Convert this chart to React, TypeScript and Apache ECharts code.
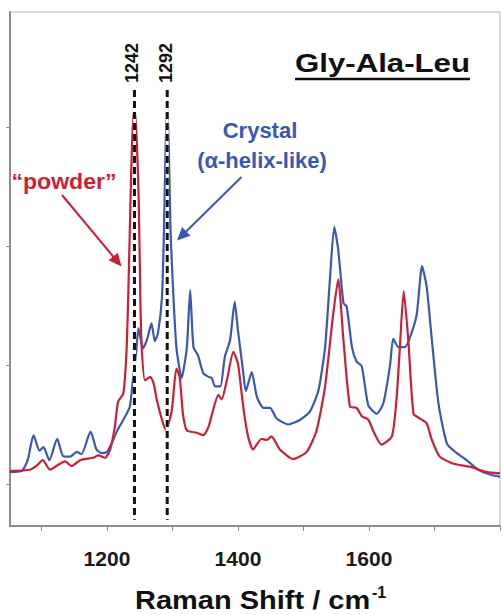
import React, { useEffect, useRef } from "react";
import * as echarts from "echarts";

// Raman shift (cm-1) and relative intensity
const crystalShift = [1052,1070,1079,1088,1097,1103,1112,1124,1133,1144,1154,1161,1175,1184,1192,1200,1207,1215,1222,1230,1235,1240,1245,1248,1255,1261,1268,1273,1278,1284,1287,1289.5,1292,1294.5,1297,1301,1306,1314,1322,1327,1332,1339,1347,1355,1360,1365,1373,1380,1388,1395,1400,1408,1412,1421,1429,1439,1449,1459,1477,1495,1510,1523,1533,1540,1547,1553,1561,1566,1574,1581,1589,1599,1612,1622,1632,1637,1645,1655,1665,1673,1681,1688,1696,1706,1719,1734,1749,1767,1785,1800];
const crystalIntensity = [0.10,0.11,0.20,0.41,0.28,0.31,0.20,0.38,0.235,0.23,0.27,0.25,0.44,0.29,0.26,0.27,0.34,0.44,0.51,0.59,0.65,0.89,1.13,1.31,1.14,1.21,1.35,1.20,1.27,1.57,2.13,2.81,3.21,2.81,2.13,1.63,1.15,0.89,1.15,1.63,1.15,1.08,0.93,0.90,0.89,0.82,0.82,1.07,1.21,1.53,1.29,0.94,0.78,0.94,0.73,0.64,0.64,0.55,0.50,0.54,0.61,0.79,1.15,1.69,2.16,1.97,1.52,1.49,1.15,1.03,0.99,0.66,0.59,0.68,0.99,1.22,1.15,1.15,1.27,1.43,1.83,1.66,1.21,0.68,0.34,0.26,0.20,0.12,0.08,0.06];

const powderShift = [1052,1082,1092,1102,1113,1128,1136,1146,1159,1179,1187,1197,1205,1212,1217,1225,1230,1233,1236,1238.5,1242,1245.5,1248.5,1251,1253,1258,1266,1271,1276,1284,1290,1299,1306,1311,1316,1322,1337,1347,1355,1362,1370,1375,1383,1393,1400,1408,1415,1423,1436,1444,1451,1464,1484,1505,1520,1533,1545,1553,1561,1571,1581,1589,1599,1607,1619,1635,1642,1647,1653,1660,1668,1678,1688,1696,1708,1729,1754,1780,1800];
const powderIntensity = [0.11,0.12,0.15,0.20,0.12,0.17,0.19,0.15,0.20,0.22,0.24,0.22,0.29,0.48,0.69,0.76,1.13,1.69,2.39,2.89,3.17,2.89,2.39,1.55,1.15,0.87,0.90,0.85,0.71,0.54,0.45,0.62,0.97,0.90,0.59,0.45,0.43,0.41,0.48,0.62,0.75,0.71,0.87,1.11,1.01,0.65,0.41,0.29,0.38,0.37,0.40,0.29,0.21,0.27,0.45,0.82,1.41,1.72,1.21,0.65,0.64,0.57,0.54,0.44,0.33,0.40,0.71,1.13,1.62,1.21,0.59,0.55,0.51,0.37,0.23,0.17,0.145,0.10,0.09];

const markerShifts = [1242, 1292];
const markerLabels = ["1242", "1292"];
const markerTop = 3.31;
const markerBottom = -0.30;

const xTickValues = [1100, 1200, 1300, 1400, 1500, 1600, 1700, 1800];
const xLabelValues = [1200, 1400, 1600];
const yTickValues = [0, 1, 2, 3];

const RED = "#cc1f36";
const BLUE = "#3b57b5";
const FONT = '"Liberation Sans", Arial, sans-serif';

function arrow(x1: number, y1: number, x2: number, y2: number, color: string) {
  const dx = x2 - x1, dy = y2 - y1;
  const len = Math.sqrt(dx * dx + dy * dy);
  const ux = dx / len, uy = dy / len;
  const hl = 13, hw = 6;
  const bx = x2 - ux * hl, by = y2 - uy * hl;
  return [
    { type: "line", shape: { x1, y1, x2: bx + ux * 2, y2: by + uy * 2 }, style: { stroke: color, lineWidth: 2 }, z: 20 },
    {
      type: "polygon",
      shape: { points: [[x2, y2], [bx - uy * hw, by + ux * hw], [bx + uy * hw, by - ux * hw]] },
      style: { fill: color },
      z: 20,
    },
  ];
}

export default function App() {
  const ref = useRef<HTMLDivElement>(null);
  useEffect(() => {
    if (!ref.current) return;
    const chart = echarts.init(ref.current, undefined, { renderer: "svg" });
    const crystalData = crystalShift.map((x, i) => [x, crystalIntensity[i]]);
    const powderData = powderShift.map((x, i) => [x, powderIntensity[i]]);
    const markerSeries: any[] = [];
    markerShifts.forEach((s) => {
      markerSeries.push({
        type: "line", data: [[s, markerTop], [s, markerBottom]], symbol: "none", silent: true,
        lineStyle: { color: "#ffffff", width: 3 }, z: 5,
      });
      markerSeries.push({
        type: "line", data: [[s, markerTop], [s, markerBottom]], symbol: "none", silent: true,
        lineStyle: { color: "#111111", width: 3, type: [7, 4] }, z: 6,
      });
    });

    const graphics: any[] = [
      {
        type: "text", x: 295, y: 62.5, scaleX: 1.2,
        style: { text: "Gly-Ala-Leu", fill: "#111", font: `bold 26px ${FONT}`, textAlign: "left", textVerticalAlign: "middle" },
      },
      { type: "line", shape: { x1: 295, y1: 79, x2: 470, y2: 79 }, style: { stroke: "#111", lineWidth: 2.5 } },
      {
        type: "text", x: 260, y: 130,
        style: { text: "Crystal", fill: BLUE, font: `bold 22px ${FONT}`, textAlign: "center", textVerticalAlign: "middle" },
      },
      {
        type: "text", x: 262, y: 160,
        style: { text: "(α-helix-like)", fill: BLUE, font: `bold 22px ${FONT}`, textAlign: "center", textVerticalAlign: "middle" },
      },
      {
        type: "text", x: 64, y: 182, scaleX: 1.05,
        style: { text: "\u201cpowder\u201d", fill: RED, font: `bold 22px ${FONT}`, textAlign: "center", textVerticalAlign: "middle" },
      },
      {
        type: "text", x: 135, y: 600, scaleX: 1.16,
        style: { text: "Raman Shift / cm", fill: "#111", font: `bold 25px ${FONT}`, textAlign: "left", textVerticalAlign: "middle" },
      },
      {
        type: "text", x: 372, y: 592,
        style: { text: "-1", fill: "#111", font: `bold 16px ${FONT}`, textAlign: "left", textVerticalAlign: "middle" },
      },
      ...arrow(62, 195, 121.5, 266.5, RED),
      ...arrow(241.5, 177, 177, 240.5, BLUE),
    ];
    const labelX = [132, 165.8];
    markerLabels.forEach((t, i) => {
      graphics.push({
        type: "text", x: labelX[i], y: 63, rotation: Math.PI / 2,
        style: { text: t, fill: "#111", font: `bold 18px ${FONT}`, textAlign: "center", textVerticalAlign: "middle" },
      });
    });

    chart.setOption({
      animation: false,
      grid: { left: 10, right: 3, top: 12, bottom: 89, show: true, borderColor: "#b5b5b5", borderWidth: 1 },
      xAxis: {
        type: "value", min: 1052, max: 1800,
        axisLine: { onZero: false, lineStyle: { color: "#8c8c8c", width: 2 } },
        axisTick: { show: true, customValues: xTickValues, length: 5, lineStyle: { color: "#8c8c8c" } },
        axisLabel: {
          customValues: xLabelValues, fontSize: 21, fontWeight: "bold", color: "#1a1a1a", margin: 22, fontFamily: FONT,
          formatter: (v: number) => String(v),
        },
        splitLine: { show: false },
      },
      yAxis: {
        type: "value", min: -0.353, max: 3.966,
        axisLine: { show: true, onZero: false, lineStyle: { color: "#8c8c8c", width: 2 } },
        axisTick: { show: true, customValues: yTickValues, length: 4, lineStyle: { color: "#8c8c8c" } },
        axisLabel: { show: false },
        splitLine: { show: false },
      },
      series: [
        { type: "line", name: "Crystal", data: crystalData, symbol: "none", smooth: 0.2, lineStyle: { color: BLUE, width: 2.2 }, z: 3 },
        { type: "line", name: "powder", data: powderData, symbol: "none", smooth: 0.2, lineStyle: { color: RED, width: 2.2 }, z: 4 },
        ...markerSeries,
      ],
      graphic: graphics,
    });
    return () => chart.dispose();
  }, []);
  return <div ref={ref} style={{ position: "fixed", left: 0, top: 0, width: 503, height: 615, background: "#fff" }} />;
}
